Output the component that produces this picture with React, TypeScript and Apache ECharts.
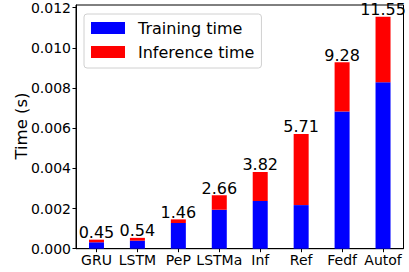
import React, { useEffect, useRef } from "react";
import * as echarts from "echarts";

const categories = ["GRU", "LSTM", "PeP", "LSTMa", "Inf", "Ref", "Fedf", "Autof"];
const trainingTime = [0.00032, 0.0004, 0.00128, 0.00194, 0.00237, 0.00217, 0.00683, 0.00829];
const inferenceTime = [0.00013, 0.00014, 0.00018, 0.00072, 0.00145, 0.00354, 0.00245, 0.00326];
const totalLabels = ["0.45", "0.54", "1.46", "2.66", "3.82", "5.71", "9.28", "11.55"];
const yTitle = "Time (s)";

const FONT = "DejaVu Sans";

export default function App() {
  const ref = useRef<HTMLDivElement>(null);
  useEffect(() => {
    if (!ref.current) return;
    const chart = echarts.init(ref.current, undefined, { renderer: "svg" });
    chart.setOption({
      animation: false,
      backgroundColor: "#ffffff",
      textStyle: { fontFamily: FONT },
      grid: { left: 76, right: 5.5, top: 5, bottom: 23.3, containLabel: false, show: true, borderColor: "#000", borderWidth: 1 },
      graphic: [
        {
          type: "text",
          x: 21,
          y: 126,
          rotation: Math.PI / 2,
          style: {
            text: yTitle,
            fontFamily: FONT,
            fontSize: 16.5,
            fill: "#000",
            textAlign: "center",
            textVerticalAlign: "middle",
          },
        },
      ],
      legend: {
        orient: "vertical",
        left: 84,
        top: 14,
        itemWidth: 34,
        itemHeight: 12,
        itemGap: 8,
        padding: [6, 7, 8, 7],
        backgroundColor: "rgba(255,255,255,0.8)",
        borderColor: "#d0d0d0",
        borderWidth: 1,
        borderRadius: 3,
        textStyle: { fontFamily: FONT, fontSize: 16, color: "#000", padding: [0, 0, 0, 8] },
        data: [
          { name: "Training time", icon: "rect" },
          { name: "Inference time", icon: "rect" },
        ],
      },
      xAxis: {
        type: "category",
        data: categories,
        boundaryGap: true,
        axisLine: { show: true, lineStyle: { color: "#000", width: 1 } },
        axisTick: { show: true, alignWithLabel: true, length: 3.5, lineStyle: { color: "#000" } },
        axisLabel: { fontFamily: FONT, fontSize: 14, color: "#000", margin: 4, interval: 0 },
        splitLine: { show: false },
      },
      yAxis: {
        type: "value",
        min: 0,
        max: 0.01213,
        interval: 0.002,
        axisLine: { show: true, lineStyle: { color: "#000", width: 1 } },
        axisTick: { show: true, length: 3.5, lineStyle: { color: "#000" } },
        axisLabel: {
          fontFamily: FONT,
          fontSize: 14,
          color: "#000",
          margin: 5,
          showMaxLabel: false,
          formatter: (v: number) => v.toFixed(3),
        },
        splitLine: { show: false },
      },
      series: [
        {
          name: "Training time",
          type: "bar",
          stack: "total",
          barWidth: 15,
          itemStyle: { color: "#0000ff" },
          data: trainingTime,
        },
        {
          name: "Inference time",
          type: "bar",
          stack: "total",
          barWidth: 15,
          itemStyle: { color: "#ff0000" },
          data: inferenceTime,
          label: {
            show: true,
            position: "top",
            distance: -1,
            fontFamily: FONT,
            fontSize: 16,
            color: "#000",
            formatter: (p: any) => totalLabels[p.dataIndex],
          },
        },
      ],
    });
    return () => chart.dispose();
  }, []);
  return (
    <div
      ref={ref}
      style={{ position: "fixed", left: 0, top: 0, width: 409, height: 272 }}
    />
  );
}
